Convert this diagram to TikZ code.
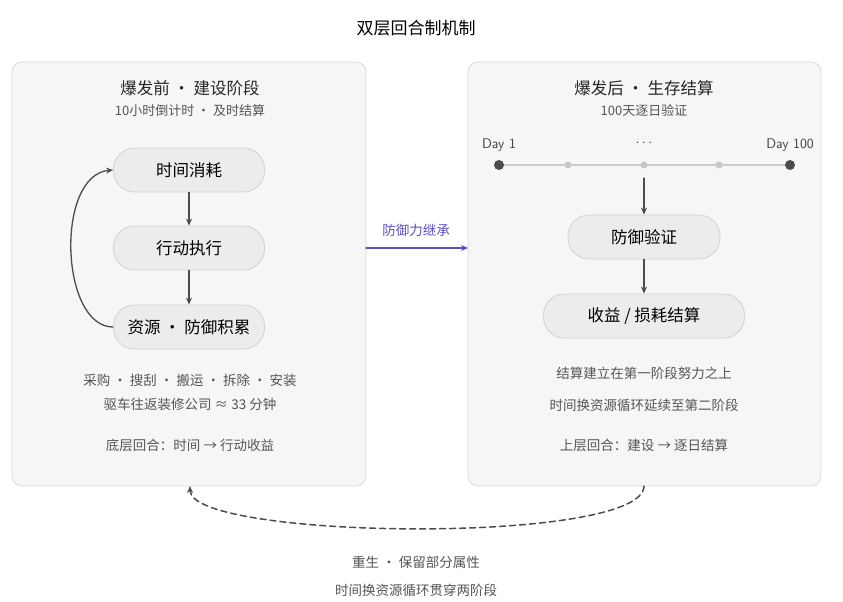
\documentclass[tikz,border=0pt]{standalone}
\usepackage{fontspec}
\newfontfamily\cjk{Noto Sans CJK SC}
\usetikzlibrary{arrows.meta}
\definecolor{panelfill}{HTML}{F6F6F6}
\definecolor{panelline}{HTML}{DADADA}
\definecolor{pillfill}{HTML}{ECECEF}
\definecolor{pillline}{HTML}{D2D2D6}
\definecolor{txtgray}{HTML}{555555}
\definecolor{inherit}{HTML}{5B4FC4}
\tikzset{
  panel/.style={draw=panelline,fill=panelfill,rounded corners=10pt,line width=0.8pt},
  pill/.style={draw=pillline,fill=pillfill,rounded corners=21pt,minimum height=44pt,line width=0.8pt,font=\cjk\fontsize{16.5}{19}\selectfont},
  head/.style={font=\cjk\fontsize{16.5}{19}\selectfont,text=black!85},
  sub/.style={font=\cjk\fontsize{13}{15}\selectfont,text=txtgray},
  note/.style={font=\cjk\fontsize{13.5}{16}\selectfont,text=txtgray},
  flow/.style={-{Stealth[length=7pt,width=6pt]},line width=1.3pt,draw=black!70},
}
\begin{document}
\begin{tikzpicture}[x=1pt,y=-1pt,line cap=round,line join=round]
  \useasboundingbox (0,0) rectangle (843,602);
  \node[font=\cjk\fontsize{17}{20}\selectfont] (title) at (416,28) {双层回合制机制};
  % panels
  \draw[panel] (12,62) rectangle (366,486);
  \draw[panel] (468,62) rectangle (821,486);
  \coordinate (lbot) at (190,486);
  \coordinate (rbot) at (644,486);
  \coordinate (lright) at (366,248);
  \coordinate (rleft) at (468,248);
  % left panel
  \node[head] (lhead) at (190,88) {爆发前 · 建设阶段};
  \node[sub] (lsub) at (190,111) {10小时倒计时 · 及时结算};
  \node[pill,minimum width=151pt] (time) at (189,170) {时间消耗};
  \node[pill,minimum width=151pt] (act) at (189,248) {行动执行};
  \node[pill,minimum width=151pt] (res) at (189,327) {资源 · 防御积累};
  \draw[flow] (time) -- (act);
  \draw[flow] (act) -- (res);
  \draw[flow] (res.west) .. controls (60,327) and (55,175) .. (time.west);
  \node[note] (l1) at (190,380) {采购 · 搜刮 · 搬运 · 拆除 · 安装};
  \node[note] (l2) at (190,404) {驱车往返装修公司 ≈ 33 分钟};
  \node[note] (l3) at (190,445) {底层回合：时间 → 行动收益};
  % right panel
  \node[head] (rhead) at (644,88) {爆发后 · 生存结算};
  \node[sub] (rsub) at (644,111) {100天逐日验证};
  \node[font=\fontsize{14}{16}\selectfont\sffamily,text=black!75] (d1) at (499,145) {Day 1};
  \node[font=\fontsize{14}{16}\selectfont,text=black!75] (dm) at (644,143) {$\cdots$};
  \node[font=\fontsize{14}{16}\selectfont\sffamily,text=black!75] (d100) at (790,145) {Day 100};
  \draw[line width=1.5pt,draw=black!20] (499,165) -- (790,165);
  \foreach \x in {568,644,719} \fill[black!22] (\x,165) circle (3.5pt);
  \fill[black!70] (499,165) circle (5pt);
  \fill[black!70] (790,165) circle (5pt);
  \coordinate (tl) at (644,178);
  \node[pill,minimum width=152pt] (def) at (644,237) {防御验证};
  \node[pill,minimum width=201pt] (gain) at (644,316) {收益 / 损耗结算};
  \draw[flow] (tl) -- (def);
  \draw[flow] (def) -- (gain);
  \node[note] (r1) at (644,373) {结算建立在第一阶段努力之上};
  \node[note] (r2) at (644,405) {时间换资源循环延续至第二阶段};
  \node[note] (r3) at (644,445) {上层回合：建设 → 逐日结算};
  % between
  \draw[-{Stealth[length=7pt,width=6pt]},line width=1.4pt,draw=inherit] (lright) -- (rleft);
  \node[font=\cjk\fontsize{13.5}{16}\selectfont,text=inherit] (inh) at (416,230) {防御力继承};
  \draw[flow,dash pattern=on 6pt off 4pt,line width=1.5pt] (rbot) .. controls (644,545) and (190,540) .. (lbot);
  \node[note] (b1) at (416,562) {重生 · 保留部分属性};
  \node[note] (b2) at (416,590) {时间换资源循环贯穿两阶段};
\end{tikzpicture}
\end{document}
